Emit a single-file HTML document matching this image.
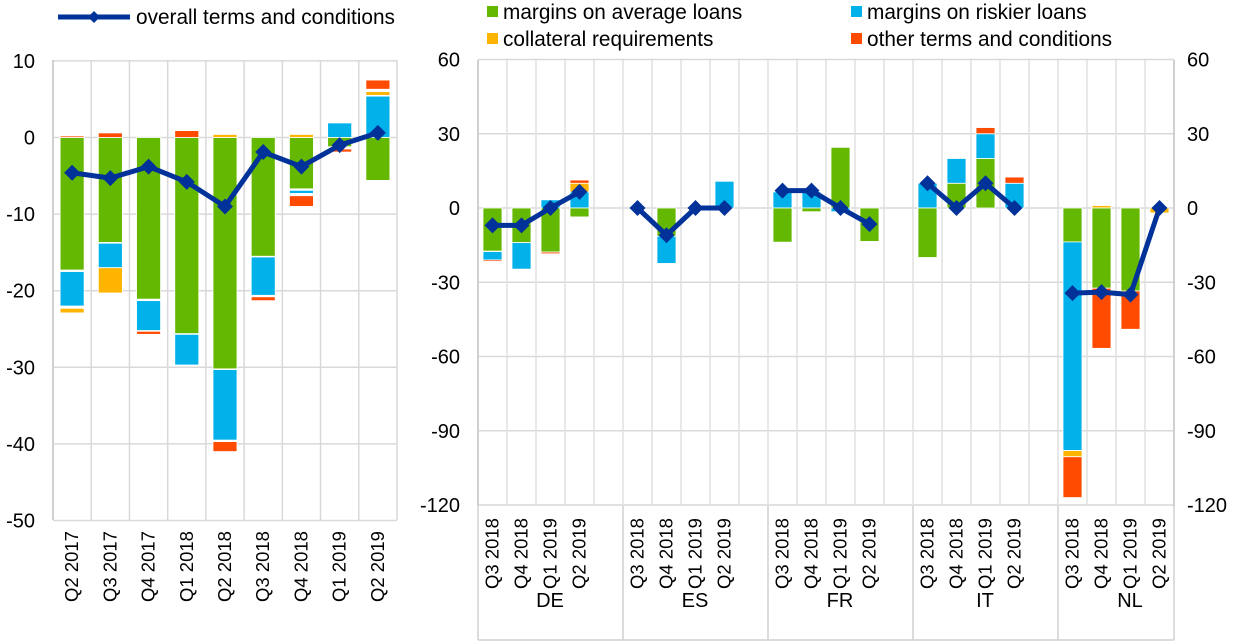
<!DOCTYPE html>
<html><head><meta charset="utf-8"><style>
html,body{margin:0;padding:0;background:#fff;}
svg{display:block;font-family:"Liberation Sans",Arial,sans-serif;}
</style></head><body>
<svg id="s" width="1240" height="642" viewBox="0 0 1240 642" xmlns="http://www.w3.org/2000/svg"></svg>
<script>
const G='#65b800',B='#00b1ea',Y='#ffb400',R='#ff4b00',N='#003299';
let o='';
function rect(x,y1,y2,w,c){const t=Math.min(y1,y2),h=Math.abs(y2-y1);if(h<0.3)return;o+=`<rect x="${x-w/2}" y="${t}" width="${w}" height="${h}" fill="${c}" stroke="#fff" stroke-width="0.8"/>`;}
function line(x1,y1,x2,y2,c,w){o+=`<line x1="${x1}" y1="${y1}" x2="${x2}" y2="${y2}" stroke="${c}" stroke-width="${w}"/>`;}
function text(x,y,s,anchor,size,rot){o+=`<text x="${x}" y="${y}" font-size="${size||19}" text-anchor="${anchor||'start'}" fill="#000"${rot?` transform="rotate(-90 ${x} ${y})"`:''}>${s}</text>`;}
function diamond(x,y,r){o+=`<polygon points="${x},${y-r} ${x+r},${y} ${x},${y+r} ${x-r},${y}" fill="${N}"/>`;}

// LEFT CHART
const L0=53,L1=397,ly=v=>137.5-v*7.66;const lw=(L1-L0)/9;
for(let v=10;v>=-50;v-=10)line(L0,ly(v),L1,ly(v),'#d9d9d9',1.5);
for(let i=0;i<=9;i++)line(L0+lw*i,60,L0+lw*i,520,'#d9d9d9',1.5);
line(L0,60,L0,520,'#d0d0d0',2);
[10,0,-10,-20,-30,-40,-50].forEach(v=>text(35,ly(v)+7,v<0?'-'+(-v):v,'end',20));
const Ld=[
 [[[0,-17.3,G],[-17.5,-22,B],[-22.3,-22.9,Y],[0,0.2,R]],-4.6],
 [[[0,-13.7,G],[-13.8,-17,B],[-17,-20.3,Y],[0,0.6,R]],-5.3],
 [[[0,-21.1,G],[-21.3,-25.2,B],[-25.3,-25.7,R]],-3.8],
 [[[0,-25.6,G],[-25.7,-29.7,B],[0,0.9,R]],-5.8],
 [[[0,-30.2,G],[-30.3,-39.5,B],[-39.7,-41,R],[0,0.4,Y]],-9.0],
 [[[0,-15.5,G],[-15.6,-20.6,B],[-20.8,-21.3,R]],-1.9],
 [[[0,-6.7,G],[-6.9,-7.3,B],[-7.6,-9,R],[0,0.4,Y]],-3.8],
 [[[0,1.9,B],[0,-1.2,G],[-1.5,-1.9,R]],-1.0],
 [[[0,5.4,B],[5.5,6,Y],[6.3,7.5,R],[0,-5.6,G]],0.6]];
const lab=['Q2 2017','Q3 2017','Q4 2017','Q1 2018','Q2 2018','Q3 2018','Q4 2018','Q1 2019','Q2 2019'];
let pts=[];
Ld.forEach((d,i)=>{const cx=L0+lw*(i+0.5);d[0].forEach(s=>rect(cx,ly(s[0]),ly(s[1]),24,s[2]));pts.push([cx,ly(d[1])]);text(cx+6,602,lab[i],'start',18.5,true);});
o+=`<polyline points="${pts.map(p=>p.join(',')).join(' ')}" fill="none" stroke="${N}" stroke-width="5" stroke-linejoin="round"/>`;
pts.forEach(p=>diamond(p[0],p[1],8));

// RIGHT CHART
const R0=478,R1=1174,ry=v=>208-v*2.475,sw=(R1-R0)/24;
for(let v=60;v>=-120;v-=30)line(R0,ry(v),R1,ry(v),'#d9d9d9',1.5);
for(let i=0;i<=24;i++)line(R0+sw*i,60,R0+sw*i,506,'#e0e0e0',1.5);
line(R0,60,R0,506,'#d0d0d0',2);line(R1,60,R1,506,'#d0d0d0',2);
[60,30,0,-30,-60,-90,-120].forEach(v=>{const s=v<0?'-'+(-v):v;text(460,ry(v)+7,s,'end',20);text(1187,ry(v)+7,s,'start',20);});
const groups=[['DE',[
 [[[0,-17.4,G],[-17.6,-21,B],[-21,-21.6,R]],-7],
 [[[0,-14,G],[-14,-24.7,B]],-7],
 [[[0,3.3,B],[0,-17.8,G],[-17.8,-18.5,R]],0],
 [[[0,6.5,B],[6.5,10,Y],[10,11.3,R],[0,-3.6,G]],6.5]]],
 ['ES',[[[],0],[[[0,-11.4,G],[-11.4,-22.4,B]],-11],[[],0],[[[0,10.8,B]],0]]],
 ['FR',[[[[0,6.5,B],[0,-13.8,G]],7],[[[0,6.5,B],[0,-1.5,G]],7],[[[0,24.5,G],[0,-1.5,B]],0],[[[0,-13.5,G]],-6.5]]],
 ['IT',[[[[0,10,B],[0,-20,G]],10],[[[0,10,G],[10,20,B]],0],[[[0,20,G],[20,30,B],[30,32.5,R]],10],[[[0,10,B],[10,12.5,R]],0]]],
 ['NL',[[[[0,-13.7,G],[-13.7,-98,B],[-98,-100.5,Y],[-100.5,-117,R]],-34.4],[[[0,1,Y],[0,-32.4,G],[-32.4,-56.7,R]],-34],[[[0,-33.5,G],[-33.5,-49,R]],-35],[[[0,-2,Y]],0]]]];
const ql=['Q3 2018','Q4 2018','Q1 2019','Q2 2019'];
groups.forEach((g,gi)=>{let p=[];g[1].forEach((d,j)=>{const cx=R0+sw*(gi*5+j+0.5);d[0].forEach(s=>rect(cx,ry(s[0]),ry(s[1]),19,s[2]));p.push([cx,ry(d[1])]);text(cx+6,589,ql[j],'start',18.5,true);});
 o+=`<polyline points="${p.map(q=>q.join(',')).join(' ')}" fill="none" stroke="${N}" stroke-width="5" stroke-linejoin="round"/>`;p.forEach(q=>diamond(q[0],q[1],8));
 text(R0+sw*5*gi+72,607,g[0],'middle',20);});
for(let k=0;k<=5;k++){const x=Math.min(R0+sw*5*k,R1);line(x,506,x,640,'#d0d0d0',1.5);}
line(R0,640,R1,640,'#d0d0d0',1.5);

// LEGENDS
line(58,17,130,17,N,5);diamond(94,17,6);text(136,24,'overall terms and conditions','start',20.8);
o+=`<rect x="487" y="6" width="11" height="11" fill="${G}"/>`;text(503,19,'margins on average loans','start',20.8);
o+=`<rect x="851" y="6" width="11" height="11" fill="${B}"/>`;text(867,19,'margins on riskier loans','start',20.8);
o+=`<rect x="487" y="33" width="11" height="11" fill="${Y}"/>`;text(503,46,'collateral requirements','start',20.8);
o+=`<rect x="851" y="33" width="11" height="11" fill="${R}"/>`;text(867,46,'other terms and conditions','start',20.8);
document.getElementById('s').innerHTML=o;
</script>
</body></html>
